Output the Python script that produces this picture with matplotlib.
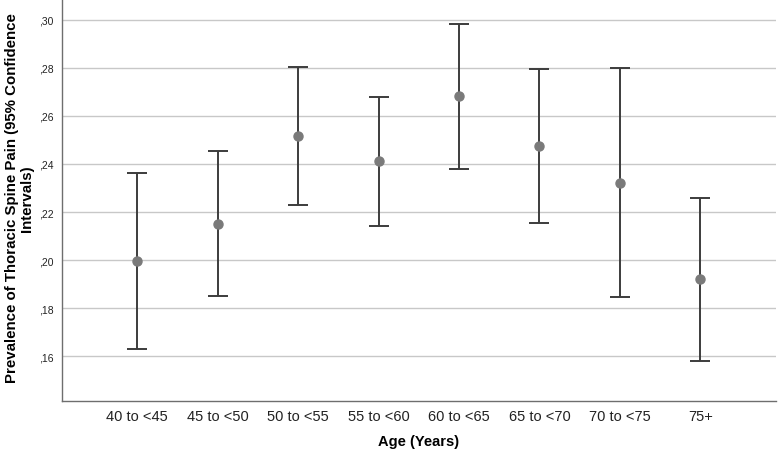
import matplotlib
matplotlib.use("Agg")
import matplotlib.pyplot as plt
from matplotlib.ticker import FuncFormatter

plt.rcParams['font.family'] = ['Liberation Sans', 'DejaVu Sans']

# Prevalence by age group with 95% CI
age_groups = ['40 to <45', '45 to <50', '50 to <55', '55 to <60',
              '60 to <65', '65 to <70', '70 to <75', '75+']
prevalence = [0.1995, 0.2151, 0.2515, 0.2411, 0.2681, 0.2476, 0.2321, 0.1920]
ci_lower = [0.1629, 0.1851, 0.2229, 0.2141, 0.2379, 0.2156, 0.1845, 0.1582]
ci_upper = [0.2362, 0.2455, 0.2802, 0.2680, 0.2982, 0.2796, 0.2798, 0.2257]
y_ticks = [0.16, 0.18, 0.20, 0.22, 0.24, 0.26, 0.28, 0.30]

fig = plt.figure(figsize=(7.78, 4.56), dpi=100)
ax = fig.add_axes([0.0793, 0.1184, 0.9181, 0.8816])

x = list(range(len(age_groups)))
err_lo = [p - lo for p, lo in zip(prevalence, ci_lower)]
err_hi = [hi - p for p, hi in zip(prevalence, ci_upper)]

ax.errorbar(x, prevalence, yerr=[err_lo, err_hi], fmt='none',
            ecolor='#3c3c3c', elinewidth=1.4, capsize=7.2, capthick=1.4, zorder=3)
ax.plot(x, prevalence, 'o', color='#7a7a7a', markersize=6.5, zorder=4)

ax.set_xlim(-0.94, 7.94)
ax.set_ylim(0.1414, 0.3086)
ax.set_yticks(y_ticks)
ax.yaxis.set_major_formatter(FuncFormatter(lambda v, p: f'{v:.2f}'.lstrip('0').replace('.', ',')))
ax.set_xticks(x)
ax.set_xticklabels(age_groups)
ax.grid(axis='y', color='#c8c8c8', linewidth=1.0, zorder=0)
ax.set_axisbelow(True)

for s in ['top', 'right']:
    ax.spines[s].set_visible(False)
for s in ['left', 'bottom']:
    ax.spines[s].set_color('#6e6e6e')
    ax.spines[s].set_linewidth(1.0)

ax.tick_params(axis='both', length=0, colors='#222222')
ax.tick_params(axis='y', labelsize=7.5, pad=6)
ax.tick_params(axis='x', labelsize=10.5, pad=6)

ax.set_xlabel('Age (Years)', fontsize=10.5, fontweight='bold', labelpad=8)
ax.set_ylabel('Prevalence of Thoracic Spine Pain (95% Confidence\nIntervals)',
              fontsize=10.8, fontweight='bold', linespacing=1.1)
ax.yaxis.set_label_coords(-0.039, 0.507)

fig.savefig('out.png', dpi=100)
